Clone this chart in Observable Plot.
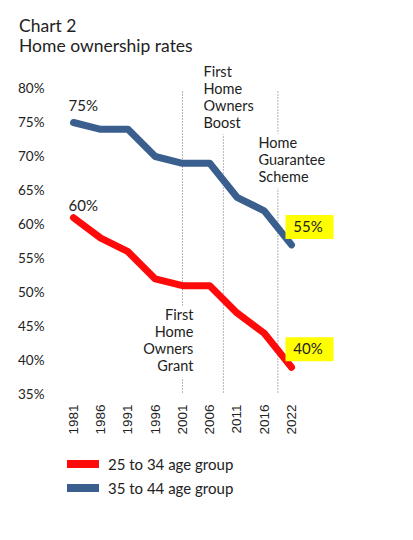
<!DOCTYPE html>
<html>
<head>
<meta charset="utf-8">
<script src="https://cdn.jsdelivr.net/npm/d3@7"></script>
<script src="https://cdn.jsdelivr.net/npm/@observablehq/plot@0.6"></script>
<style>
  body { margin: 0; background: white; font-family: Lato, sans-serif; color: #222; }
  #page { position: relative; width: 413px; height: 540px; overflow: hidden; }
  #title { position: absolute; left: 19px; top: 16px; font-size: 17.5px; line-height: 20px; z-index: 2; }
  #chart { position: absolute; left: 0; top: 50px; z-index: 1; }
  #legend { position: absolute; left: 67px; top: 452px; font-size: 15px; }
  .row { display: flex; align-items: center; height: 24px; }
  .sw { display: inline-block; width: 32px; height: 8px; margin-right: 9px; }
</style>
</head>
<body>
<div id="page">
  <div id="title">Chart 2<br>Home ownership rates</div>
  <div id="chart"></div>
  <div id="legend"></div>
</div>
<script>
const years = ["1981", "1986", "1991", "1996", "2001", "2006", "2011", "2016", "2022"];
const age2534 = [61, 58, 56, 52, 51, 51, 47, 44, 39];
const age3544 = [75, 74, 74, 70, 69, 69, 64, 62, 57];
const yTicks = [35, 40, 45, 50, 55, 60, 65, 70, 75, 80];
const seriesNames = ["25 to 34 age group", "35 to 44 age group"];
const seriesColors = ["#ff0a0a", "#3a5f8f"];
const startLabels = ["60%", "75%"];
const endLabels = ["40%", "55%"];
// policy lines, as positions on the (evenly spaced) year axis
const policyAt = [4, 5.5, 7.5];
const policyNames = ["First\nHome\nOwners\nGrant", "First\nHome\nOwners\nBoost", "Home\nGuarantee\nScheme"];

const rows = years.map((y, i) => ({i, year: y, a: age2534[i], b: age3544[i]}));
const first = rows[0];
const last = rows[rows.length - 1];
const policies = policyAt.map((p, k) => ({p, name: policyNames[k]}));

// yellow box behind the end labels
const box = {draw(ctx) { ctx.rect(-24, -12, 48, 24); }};

const noteStyle = {fill: "#222", stroke: "white", strokeWidth: 13, fontSize: 14.5, lineHeight: 1.16, lineAnchor: "middle"};

const chart = Plot.plot({
  width: 413,
  height: 394,
  marginLeft: 73,
  marginRight: 122,
  marginTop: 38,
  marginBottom: 50,
  style: {fontFamily: "Lato, sans-serif", fontSize: "13.5px", color: "#222", background: "transparent", overflow: "visible"},
  x: {domain: [0, years.length - 1]},
  y: {domain: [35, 80]},
  marks: [
    Plot.axisY({ticks: yTicks, tickFormat: d => d + "%", tickSize: 0, tickPadding: 29, label: null, fontSize: 13.5}),
    Plot.axisX({ticks: d3.range(years.length), tickFormat: i => years[i], tickRotate: -90, tickSize: 0, tickPadding: 10,
      label: null, fontFamily: "Liberation Sans, Arial, sans-serif", fontSize: 13.5}),
    Plot.ruleX(policies, {x: "p", y1: 79.5, y2: 35, stroke: "#666", strokeWidth: 0.8, strokeDasharray: "1.2,1.8"}),
    Plot.text([policies[0]], {x: 4.4, y: 43.0, text: "name", textAnchor: "end", ...noteStyle}),
    Plot.text([policies[1]], {x: 4.77, y: 78.7, text: "name", textAnchor: "start", ...noteStyle}),
    Plot.text([policies[2]], {x: 6.79, y: 69.56, text: "name", textAnchor: "start", ...noteStyle}),
    Plot.line(rows, {x: "i", y: "a", stroke: seriesColors[0], strokeWidth: 7, strokeLinecap: "round", strokeLinejoin: "round"}),
    Plot.line(rows, {x: "i", y: "b", stroke: seriesColors[1], strokeWidth: 7, strokeLinecap: "round", strokeLinejoin: "round"}),
    Plot.text([first], {x: "i", y: "a", text: () => startLabels[0], textAnchor: "start", dx: -5, dy: -12, fontSize: 15, fill: "#222"}),
    Plot.text([first], {x: "i", y: "b", text: () => startLabels[1], textAnchor: "start", dx: -5, dy: -16, fontSize: 15, fill: "#222"}),
    Plot.dot([last], {x: "i", y: "a", symbol: box, fill: "#ffff00", stroke: "none", dx: 18, dy: -18}),
    Plot.dot([last], {x: "i", y: "b", symbol: box, fill: "#ffff00", stroke: "none", dx: 18, dy: -18}),
    Plot.text([last], {x: "i", y: "a", text: () => endLabels[0], dx: 16.5, dy: -18, fontSize: 15, fill: "#222"}),
    Plot.text([last], {x: "i", y: "b", text: () => endLabels[1], dx: 16.5, dy: -18, fontSize: 15, fill: "#222"})
  ]
});
d3.select("#chart").append(() => chart);

const legend = d3.select("#legend");
seriesNames.forEach((n, k) => {
  const r = legend.append("div").attr("class", "row");
  r.append("span").attr("class", "sw").style("background", seriesColors[k]);
  r.append("span").text(n);
});
</script>
</body>
</html>
